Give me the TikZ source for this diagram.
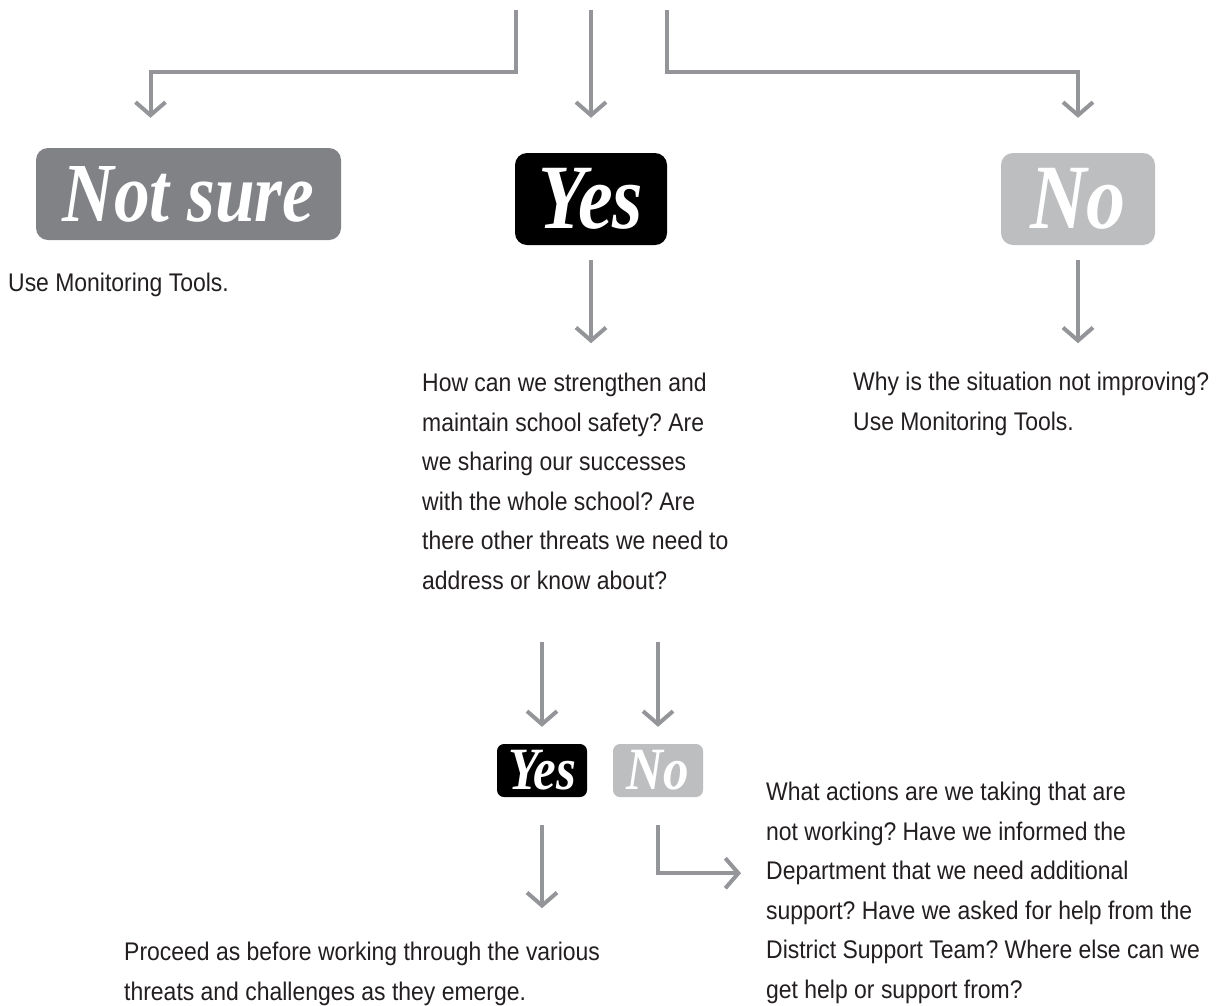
\documentclass[tikz,border=0pt]{standalone}
\usepackage{fontspec}
\setmainfont{Liberation Sans}[FakeStretch=0.9]
\newfontfamily\scr{Liberation Serif}[FakeStretch=0.85]
\usetikzlibrary{arrows.meta}
\definecolor{arrgray}{HTML}{939598}
\definecolor{nsgray}{HTML}{808285}
\definecolor{nogray}{HTML}{BCBEC0}
\definecolor{txt}{HTML}{231F20}
\frenchspacing
\begin{document}
\begin{tikzpicture}[x=1pt,y=-1pt,
  arr/.style={draw=arrgray, line width=4pt, -{Straight Barb[length=13pt,width=30pt]}},
  bigbox/.style={rounded corners=12pt, minimum height=92pt, inner sep=0pt, text=white,
    font=\scr\bfseries\itshape\fontsize{84}{84}\selectfont},
  smallbox/.style={rounded corners=7pt, minimum width=90pt, minimum height=53pt, inner sep=0pt, text=white,
    font=\scr\bfseries\itshape\fontsize{60}{60}\selectfont},
  body/.style={anchor=north west, inner sep=0pt, align=left, text=txt,
    font=\fontsize{25.5}{39.5}\selectfont}]
\useasboundingbox[fill=white] (0,0) rectangle (1223,1005);

% big answer boxes
\node[bigbox, fill=nsgray, minimum width=305pt] (ns) at (188.5,194) {Not sure};
\node[bigbox, fill=black, minimum width=152pt, font=\scr\bfseries\itshape\fontsize{92}{92}\selectfont] (yes) at (591,199) {Yes};
\node[bigbox, fill=nogray, minimum width=154pt, font=\scr\bfseries\itshape\fontsize{92}{92}\selectfont] (no) at (1078,199) {No};

% incoming lines
\coordinate (t1) at (516,10);
\coordinate (t2) at (591,10);
\coordinate (t3) at (667,10);
\coordinate (j1) at (516,72);
\coordinate (j3) at (667,72);
\draw[arr, shorten >=30pt] (t1) -- (j1) -| ([xshift=-38pt]ns.north);
\draw[arr, shorten >=35pt] (t2) -- (yes.north);
\draw[arr, shorten >=35pt] (t3) -- (j3) -| (no.north);

% texts under first row
\node[body] (tns) at (8,273) {Use Monitoring Tools.};
\node[body] (tyes) at (422,373) {How can we strengthen and\\maintain school safety? Are\\we sharing our successes\\with the whole school? Are\\there other threats we need to\\address or know about?};
\node[body] (tno) at (853,372) {Why is the situation not improving?\\Use Monitoring Tools.};

\draw[arr, shorten <=15pt] (yes.south) -- ++(0,98);
\draw[arr, shorten <=15pt] (no.south) -- ++(0,98);

% second row boxes
\node[smallbox, fill=black] (syes) at (542,770.5) {Yes};
\node[smallbox, fill=nogray] (sno) at (658,770.5) {No};
\coordinate (s1) at (542,642);
\coordinate (s2) at (658,642);
\draw[arr, shorten >=17pt] (s1) -- (syes.north);
\draw[arr, shorten >=17pt] (s2) -- (sno.north);

% bottom texts
\node[body] (tsyes) at (124,942) {Proceed as before working through the various\\threats and challenges as they emerge.};
\node[body] (tsno) at (766,782) {What actions are we taking that are\\not working? Have we informed the\\Department that we need additional\\support? Have we asked for help from the\\District Support Team? Where else can we\\get help or support from?};

\draw[arr, shorten <=28pt] (syes.south) -- ++(0,111);
\draw[arr, shorten <=28pt] (sno.south) -- ++(0,76) -- ++(83,0);
\end{tikzpicture}
\end{document}
